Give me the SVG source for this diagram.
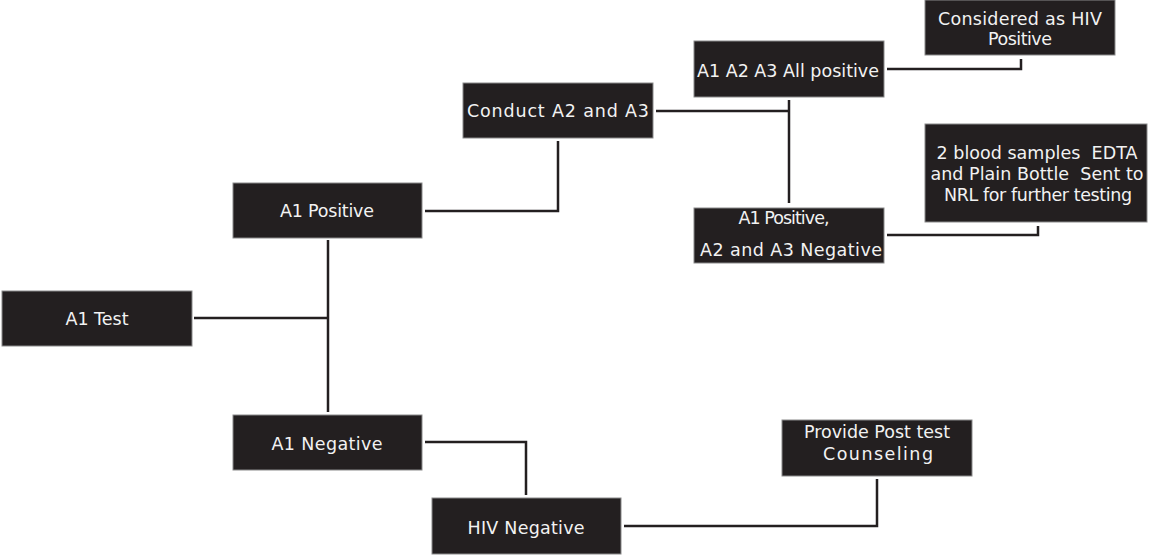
<svg xmlns="http://www.w3.org/2000/svg" width="1150" height="556" viewBox="0 0 1150 556">
<style>
.box{fill:#231f20;stroke:#8a8a8a;stroke-width:1}
.t{fill:#f2f2f2;font-family:"DejaVu Sans","Liberation Sans",sans-serif;font-size:17.5px;text-anchor:middle;white-space:pre}
.c{fill:none;stroke:#231f20;stroke-width:2.5}
</style>
<rect width="1150" height="556" fill="#ffffff"/>
<g id="connectors">
<path class="c" d="M194 318 H328"/>
<path class="c" d="M328 240 V412"/>
<path class="c" d="M425 211 H558 V141"/>
<path class="c" d="M656 111 H789"/>
<path class="c" d="M789 100 V203"/>
<path class="c" d="M887 69 H1021 V59"/>
<path class="c" d="M887 235 H1038 V226"/>
<path class="c" d="M425 442 H526 V495"/>
<path class="c" d="M624 526 H877 V479"/>
</g>
<g id="a1test">
<rect class="box" x="2" y="291" width="190" height="55"/>
<text class="t" x="97" y="325" textLength="63" lengthAdjust="spacing">A1 Test</text>
</g>
<g id="a1positive">
<rect class="box" x="233" y="183" width="189" height="55"/>
<text class="t" x="327" y="217" textLength="94" lengthAdjust="spacing">A1 Positive</text>
</g>
<g id="conduct">
<rect class="box" x="463" y="83" width="190" height="55"/>
<text class="t" x="558" y="117" textLength="182" lengthAdjust="spacing">Conduct A2 and A3</text>
</g>
<g id="allpositive">
<rect class="box" x="694" y="41" width="190" height="56"/>
<text class="t" x="788" y="77" textLength="182" lengthAdjust="spacing">A1 A2 A3 All positive</text>
</g>
<g id="considered">
<rect class="box" x="925" y="0" width="190" height="55"/>
<text class="t" x="1020" y="25" textLength="164" lengthAdjust="spacing">Considered as HIV</text>
<text class="t" x="1020" y="45" textLength="64" lengthAdjust="spacing">Positive</text>
</g>
<g id="a2a3negative">
<rect class="box" x="694" y="208" width="190" height="55"/>
<text class="t" x="784" y="224" textLength="91" lengthAdjust="spacing">A1 Positive,</text>
<text class="t" x="791" y="256" textLength="182" lengthAdjust="spacing">A2 and A3 Negative</text>
</g>
<g id="bloodsamples">
<rect class="box" x="925" y="124" width="222" height="98"/>
<text class="t" x="1037" y="159" textLength="201" lengthAdjust="spacing">2 blood samples  EDTA</text>
<text class="t" x="1037" y="180" textLength="213" lengthAdjust="spacing">and Plain Bottle  Sent to</text>
<text class="t" x="1038" y="201" textLength="188" lengthAdjust="spacing">NRL for further testing</text>
</g>
<g id="a1negative">
<rect class="box" x="233" y="415" width="189" height="55"/>
<text class="t" x="327" y="450" textLength="111" lengthAdjust="spacing">A1 Negative</text>
</g>
<g id="hivnegative">
<rect class="box" x="432" y="498" width="189" height="56"/>
<text class="t" x="526" y="534" textLength="117" lengthAdjust="spacing">HIV Negative</text>
</g>
<g id="counseling">
<rect class="box" x="782" y="420" width="190" height="56"/>
<text class="t" x="877" y="438" textLength="146" lengthAdjust="spacing">Provide Post test</text>
<text class="t" x="878" y="460" textLength="110" lengthAdjust="spacing">Counseling</text>
</g>
</svg>
